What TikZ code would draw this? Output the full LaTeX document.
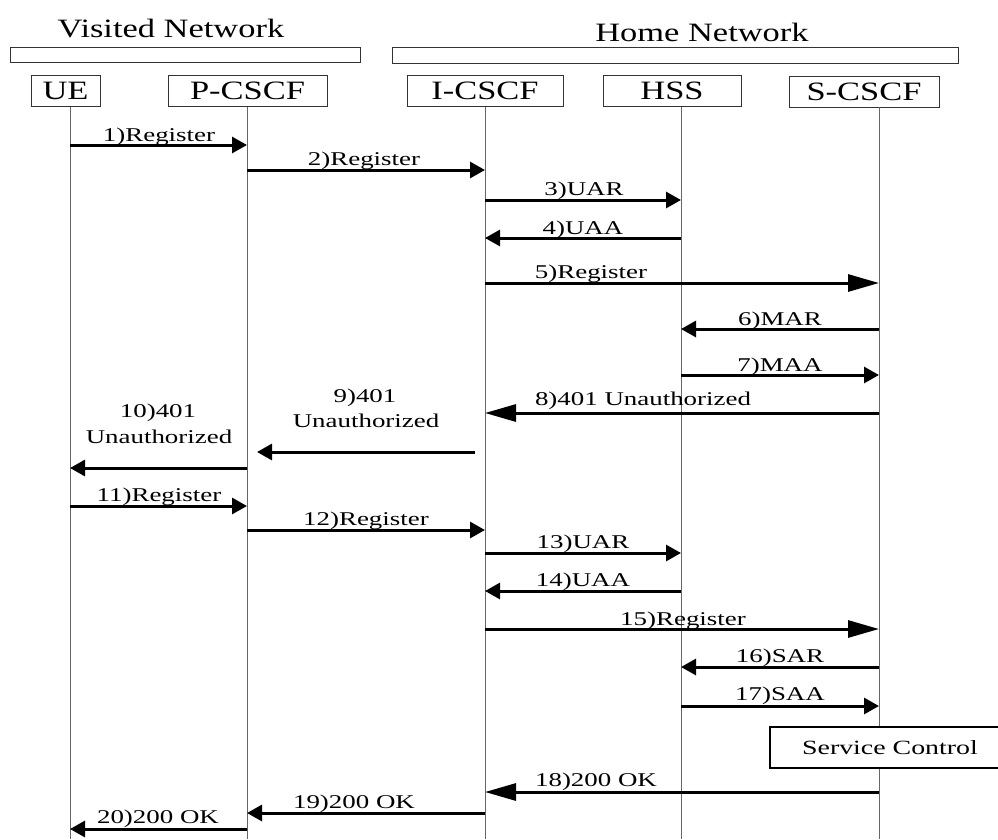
\documentclass[tikz,border=0pt]{standalone}
\usepackage{fontspec}
\setmainfont{Liberation Serif}[FakeStretch=1.38]
\newfontfamily\titlefont{Liberation Serif}[FakeStretch=1.30]
\usetikzlibrary{arrows.meta}
\begin{document}
\begin{tikzpicture}[x=1pt,y=1pt,
  actor/.style={draw=black!80, line width=0.9pt, minimum height=31pt, inner sep=0pt,
                font=\titlefont\fontsize{26.5}{26.5}\selectfont},
  band/.style={draw=black!80, line width=0.9pt, inner sep=0pt},
  life/.style={draw=black!60, line width=0.9pt},
  msg/.style={line width=3pt, -{Triangle[length=15pt,width=16pt]}},
  bigmsg/.style={line width=3pt, -{Triangle[length=31pt,width=17pt]}},
  lbl/.style={anchor=base, inner sep=0pt, font=\fontsize{19.5}{22}\selectfont},
  head/.style={anchor=base, inner sep=0pt, font=\titlefont\fontsize{26.5}{26.5}\selectfont},
  ctrl/.style={draw=black, fill=white, line width=1.8pt, minimum width=240pt,
               minimum height=41pt, inner sep=0pt, font=\fontsize{20.2}{20.2}\selectfont}]
\useasboundingbox (0,0) rectangle (998,-839);

% network domains
\node[head] (vtitle) at (171,-37) {Visited Network};
\node[head] (htitle) at (702,-41) {Home Network};
\node[band, minimum width=350pt, minimum height=15pt] (vband) at (185,-54.5) {};
\node[band, minimum width=566pt, minimum height=16pt] (hband) at (675,-55) {};

% entities
\node[actor, minimum width=69pt]  (ue)  at (65.5,-91) {UE};
\node[actor, minimum width=159pt] (pc)  at (247.5,-91) {P-CSCF};
\node[actor, minimum width=156pt] (ic)  at (485,-91) {I-CSCF};
\node[actor, minimum width=138pt] (hss) at (672,-91) {HSS};
\node[actor, minimum width=150pt] (sc)  at (864,-91.5) {S-CSCF};

% lifelines
\coordinate (lUE) at (70,-107);
\coordinate (lP)  at (247,-107);
\coordinate (lI)  at (485,-107);
\coordinate (lH)  at (681,-107);
\coordinate (lS)  at (879,-107);
\foreach \l in {lUE,lP,lI,lH,lS}
  \draw[life] (\l) -- (\l |- 0,-839);

% registration, first attempt
\draw[msg] (lUE |- 0,-145) -- (lP |- 0,-145);
\node[lbl] (t1) at (159,-141) {1)Register};
\draw[msg] (lP |- 0,-170) -- (lI |- 0,-170);
\node[lbl] (t2) at (364,-165) {2)Register};
\draw[msg] (lI |- 0,-200) -- (lH |- 0,-200);
\node[lbl] (t3) at (584,-195) {3)UAR};
\draw[msg] (lH |- 0,-238) -- (lI |- 0,-238);
\node[lbl] (t4) at (583,-234) {4)UAA};
\draw[bigmsg] (lI |- 0,-283) -- (lS |- 0,-283);
\node[lbl] (t5) at (591,-278) {5)Register};
\draw[msg] (lS |- 0,-329) -- (lH |- 0,-329);
\node[lbl] (t6) at (780,-325) {6)MAR};
\draw[msg] (lH |- 0,-375) -- (lS |- 0,-375);
\node[lbl] (t7) at (780,-371) {7)MAA};
\draw[bigmsg] (lS |- 0,-413) -- (lI |- 0,-413);
\node[lbl] (t8) at (643,-405) {8)401 Unauthorized};

\coordinate (m9a) at (475,-452);
\coordinate (m9b) at (257,-452);
\draw[msg] (m9a) -- (m9b);
\node[lbl] (t9a) at (365,-402) {9)401};
\node[lbl] (t9b) at (366,-427) {Unauthorized};
\draw[msg] (lP |- 0,-468) -- (lUE |- 0,-468);
\node[lbl] (t10a) at (158,-417) {10)401};
\node[lbl] (t10b) at (159,-443) {Unauthorized};

% registration, second attempt
\draw[msg] (lUE |- 0,-506) -- (lP |- 0,-506);
\node[lbl] (t11) at (159,-501) {11)Register};
\draw[msg] (lP |- 0,-530) -- (lI |- 0,-530);
\node[lbl] (t12) at (366,-525) {12)Register};
\draw[msg] (lI |- 0,-553) -- (lH |- 0,-553);
\node[lbl] (t13) at (583,-548) {13)UAR};
\draw[msg] (lH |- 0,-591) -- (lI |- 0,-591);
\node[lbl] (t14) at (583,-586) {14)UAA};
\draw[bigmsg] (lI |- 0,-629) -- (lS |- 0,-629);
\node[lbl] (t15) at (683,-625) {15)Register};
\draw[msg] (lS |- 0,-667) -- (lH |- 0,-667);
\node[lbl] (t16) at (780,-662) {16)SAR};
\draw[msg] (lH |- 0,-706) -- (lS |- 0,-706);
\node[lbl] (t17) at (780,-700) {17)SAA};

\node[ctrl] (svc) at (890,-747.5) {Service Control};

\draw[bigmsg] (lS |- 0,-792) -- (lI |- 0,-792);
\node[lbl] (t18) at (596,-786) {18)200 OK};
\draw[msg] (lI |- 0,-813) -- (lP |- 0,-813);
\node[lbl] (t19) at (354,-808) {19)200 OK};
\draw[msg] (lP |- 0,-829) -- (lUE |- 0,-829);
\node[lbl] (t20) at (158,-823) {20)200 OK};
\end{tikzpicture}
\end{document}
